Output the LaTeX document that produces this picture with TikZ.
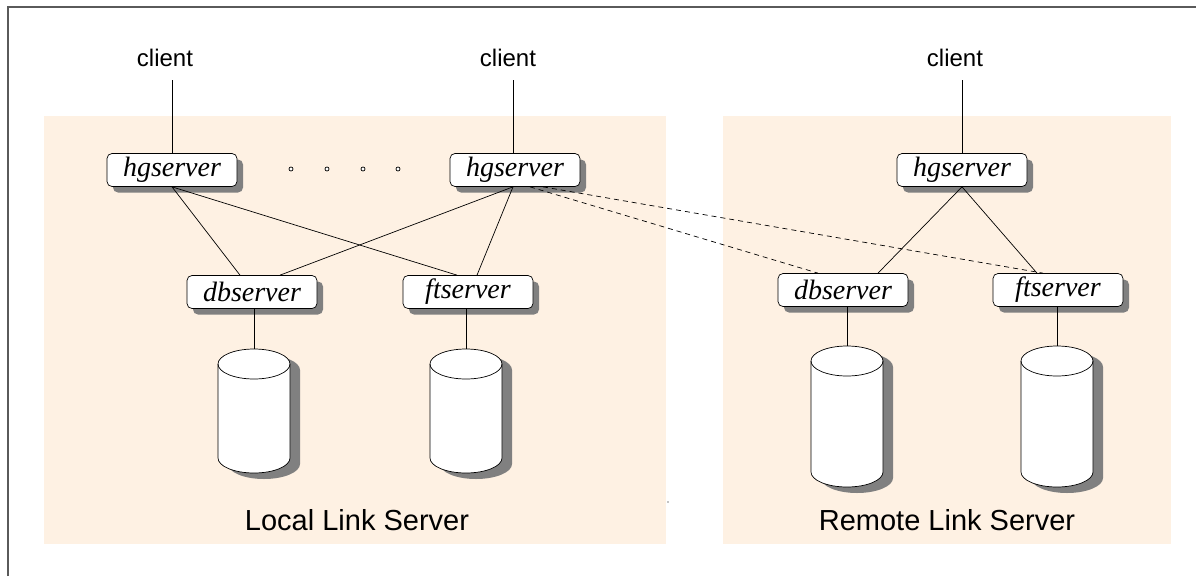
\documentclass[tikz,border=0pt]{standalone}
\usepackage{fontspec}
\setmainfont{Liberation Sans}
\newfontfamily\srvfont{Liberation Serif}
\usetikzlibrary{shadows,calc}
\definecolor{panel}{RGB}{254,241,227}
\definecolor{shadowgray}{RGB}{128,128,128}
\definecolor{frameline}{RGB}{90,90,90}
\tikzset{
  srv/.style={draw=black, fill=white, rounded corners=5pt, line width=0.7pt,
    minimum width=130pt, minimum height=33pt, inner sep=0pt,
    font=\srvfont\itshape\fontsize{28}{30}\selectfont,
    drop shadow={shadow xshift=6pt, shadow yshift=-6pt, fill=shadowgray, opacity=1}},
  clienttext/.style={font=\fontsize{24}{26}\selectfont, inner sep=0pt},
  paneltext/.style={font=\fontsize{29}{32}\selectfont, inner sep=0pt},
  link/.style={draw=black, line width=0.7pt},
  remotelink/.style={draw=black, line width=0.7pt, dash pattern=on 5pt off 4pt},
  dot/.style={draw=black, line width=0.7pt, fill=white},
}
% database cylinder: centre x, top y, bottom y (y grows downwards)
\newcommand{\dbcyl}[4]{%
  \begin{scope}[shift={(#1,0)}]
    \fill[shadowgray] (-26,#2+21) -- (-26,#3-9) arc[start angle=180,end angle=0,x radius=36,y radius=15]
      -- (46,#2+21) arc[start angle=0,end angle=-180,x radius=36,y radius=15] -- cycle;
    \path[draw=black, fill=white, line width=0.7pt] (-36,#2+15) -- (-36,#3-15)
      arc[start angle=180,end angle=0,x radius=36,y radius=15] -- (36,#2+15)
      arc[start angle=0,end angle=-180,x radius=36,y radius=15] -- cycle;
    \draw[line width=0.7pt] (-36,#2+15) arc[start angle=180,end angle=0,x radius=36,y radius=15];
    \coordinate (#4) at (0,#2);
  \end{scope}}
\begin{document}
\begin{tikzpicture}[x=1pt,y=-1pt]
  \useasboundingbox (0,0) rectangle (1196,576);
  % page frame
  \draw[frameline, line width=2pt] (8,576) -- (8,6.5) -- (1196,6.5);
  % server areas
  \fill[panel] (44,116) rectangle (666,544);
  \fill[panel] (723,116) rectangle (1171,544);
  \node[paneltext] (local) at (357,520) {Local Link Server};
  \node[paneltext] (remote) at (947,520) {Remote Link Server};

  % clients
  \node[clienttext] (c1) at (165,58) {client};
  \node[clienttext] (c2) at (508,58) {client};
  \node[clienttext] (c3) at (955,58) {client};
  \coordinate (c1b) at (172,80);
  \coordinate (c2b) at (513,80);
  \coordinate (c3b) at (962,80);

  % servers
  \node[srv] (hg1) at (172,170) {hgserver};
  \node[srv] (hg2) at (515,170) {hgserver};
  \node[srv] (hg3) at (962,170) {hgserver};
  \node[srv] (db1) at (252,292) {dbserver};
  \node[srv] (ft1) at (468,292) {ftserver};
  \node[srv] (db2) at (843,290) {dbserver};
  \node[srv] (ft2) at (1058,290) {ftserver};

  % elided servers
  \foreach \i/\x in {1/291,2/327,3/363,4/398}
    \draw[dot] (\x,169) circle (2pt) coordinate (e\i);

  % databases
  \dbcyl{254}{349}{473}{cy1}
  \dbcyl{466}{349}{473}{cy2}
  \dbcyl{847}{346}{487}{cy3}
  \dbcyl{1057}{346}{487}{cy4}

  % connections
  \draw[link] (c1b) -- (hg1.north -| c1b);
  \draw[link] (c2b) -- (hg2.north -| c2b);
  \draw[link] (c3b) -- (hg3.north -| c3b);
  \draw[link] (hg1.south) -- ([xshift=-12pt]db1.north);
  \draw[link] (hg1.south) -- ([xshift=-11pt]ft1.north);
  \draw[link] ([xshift=-2pt]hg2.south) -- ([xshift=28pt]db1.north);
  \draw[link] ([xshift=-2pt]hg2.south) -- ([xshift=9pt]ft1.north);
  \draw[link] (hg3.south) -- ([xshift=35pt]db2.north);
  \draw[link] (hg3.south) -- ([xshift=-21pt]ft2.north);
  \draw[remotelink] ([xshift=15pt]hg2.south) -- ([xshift=-25pt]db2.north);
  \draw[remotelink] ([xshift=28pt]hg2.south) -- ([xshift=-15pt]ft2.north);
  \draw[link] (db1.south -| cy1) -- (cy1);
  \draw[link] (ft1.south -| cy2) -- (cy2);
  \draw[link] (db2.south -| cy3) -- (cy3);
  \draw[link] (ft2.south -| cy4) -- (cy4);

  % stray mark
  \fill (668,502) circle (0.6pt);
\end{tikzpicture}
\end{document}
